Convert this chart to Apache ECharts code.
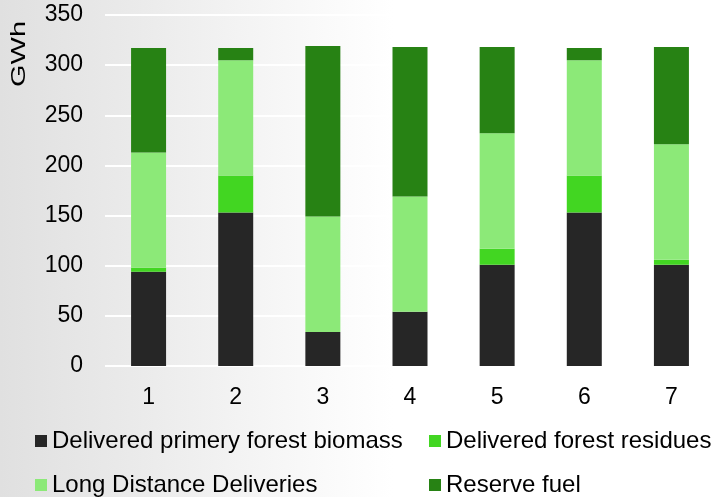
<!DOCTYPE html>
<html>
<head>
<meta charset="utf-8">
<script src="https://cdn.jsdelivr.net/npm/echarts@6/dist/echarts.min.js"></script>
<style>
  html, body { margin: 0; padding: 0; }
  #chart { width: 715px; height: 497px; }
</style>
</head>
<body>
<div id="chart"></div>
<script>
// Energy supply per period, GWh, stacked by fuel source
const categories = ['1', '2', '3', '4', '5', '6', '7'];
const primaryBiomass = [94, 153, 34, 54, 101, 153, 101];
const forestResidues = [4, 37, 0, 0, 16, 37, 5];
const longDistance = [115, 115, 115, 115, 115, 115, 115];
const reserveFuel = [104, 12, 170, 149, 86, 12, 97];
const seriesNames = [
  'Delivered primery forest biomass',
  'Delivered forest residues',
  'Long Distance Deliveries',
  'Reserve fuel'
];
const seriesColors = ['#262626', '#42d622', '#8ce978', '#278214'];
const seriesValues = [primaryBiomass, forestResidues, longDistance, reserveFuel];

const FONT = 'Liberation Sans, Arial, sans-serif';

const chart = echarts.init(document.getElementById('chart'));

// one legend block per entry, laid out as a 2x2 table
const legendSpots = [
  { left: 30, top: 424 },
  { left: 424, top: 424 },
  { left: 30, top: 468 },
  { left: 424, top: 468 }
];

chart.setOption({
  animation: false,
  backgroundColor: {
    type: 'linear', x: 0, y: 0, x2: 1, y2: 0,
    colorStops: [
      { offset: 0, color: '#e0e0e0' },
      { offset: 0.2, color: '#ebebeb' },
      { offset: 0.4, color: '#f7f7f7' },
      { offset: 0.55, color: '#ffffff' },
      { offset: 1, color: '#ffffff' }
    ]
  },
  grid: { left: 105, width: 619, top: 15, height: 351, containLabel: false },
  legend: seriesNames.map((name, i) => ({
    data: [name],
    left: legendSpots[i].left,
    top: legendSpots[i].top,
    icon: 'rect',
    itemWidth: 12,
    itemHeight: 12,
    itemGap: 0,
    selectedMode: false,
    textStyle: { fontFamily: FONT, fontSize: 24, color: '#000' }
  })),
  // vertical unit title, drawn slightly stretched along its reading direction
  graphic: [{
    type: 'text',
    x: 19,
    y: 54,
    rotation: Math.PI / 2,
    scaleX: 1.38,
    scaleY: 1,
    style: {
      text: 'GWh',
      font: '21px "Liberation Sans", Arial, sans-serif',
      fontFamily: FONT,
      fontSize: 21,
      fill: '#000',
      align: 'center',
      verticalAlign: 'middle'
    }
  }],
  xAxis: {
    type: 'category',
    data: categories,
    axisLine: { show: false },
    axisTick: { show: false },
    axisLabel: { fontFamily: FONT, fontSize: 23, color: '#000', margin: 20 }
  },
  yAxis: {
    type: 'value',
    min: 0,
    max: 350,
    interval: 50,
    axisLine: { show: false },
    axisTick: { show: false },
    axisLabel: { fontFamily: FONT, fontSize: 23, color: '#000', margin: 22 },
    splitLine: { lineStyle: { color: '#ffffff', width: 2 } }
  },
  series: seriesNames.map((name, i) => ({
    name,
    type: 'bar',
    stack: 'total',
    barWidth: 35,
    data: seriesValues[i],
    itemStyle: { color: seriesColors[i] }
  }))
});
</script>
</body>
</html>
